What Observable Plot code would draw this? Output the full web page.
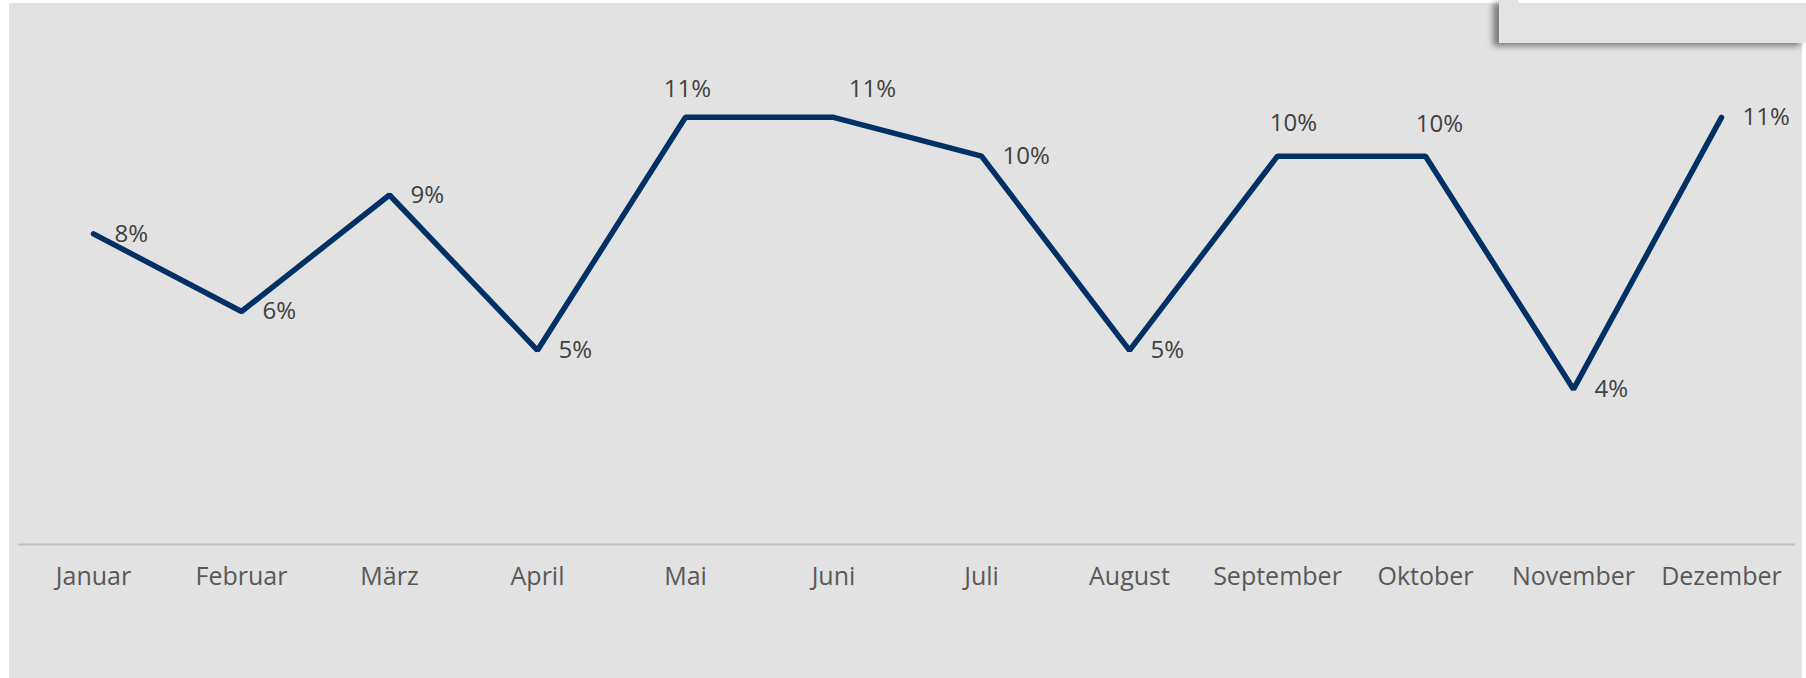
<!DOCTYPE html>
<html>
<head>
<meta charset="utf-8">
<script src="https://cdn.jsdelivr.net/npm/d3@7"></script>
<script src="https://cdn.jsdelivr.net/npm/@observablehq/plot@0.6"></script>
<style>
  html, body { margin: 0; padding: 0; background: #ffffff; }
  #wrap { position: relative; width: 1806px; height: 678px; overflow: hidden; }
  #bg { position: absolute; left: 9px; top: 3px; width: 1793px; height: 675px; background: #e2e2e2; }
  #chart { position: absolute; left: 0; top: 0; }
  #box { position: absolute; left: 1499px; top: 0; width: 307px; height: 43px; background: #e3e3e3;
         box-shadow: -6px 3px 6px rgba(0,0,0,0.45); }
  #strip { position: absolute; left: 1518px; top: 0; width: 288px; height: 3px; background: #ffffff; }
</style>
</head>
<body>
<div id="wrap">
  <div id="bg"></div>
  <div id="chart"></div>
  <div id="box"></div>
  <div id="strip"></div>
</div>
<script>
const months = ["Januar","Februar","März","April","Mai","Juni","Juli","August","September","Oktober","November","Dezember"];
const values = [8, 6, 9, 5, 11, 11, 10, 5, 10, 10, 4, 11];
const valueLabels = ["8%","6%","9%","5%","11%","11%","10%","5%","10%","10%","4%","11%"];

const data = months.map((m, i) => ({month: m, value: values[i], label: valueLabels[i]}));

const rightPlaced = new Set(["Januar","Februar","März","April","Juli","August","November","Dezember"]);
const abovePlaced = [
  {month: "Mai", dx: 2, dy: -28},
  {month: "Juni", dx: 39, dy: -28},
  {month: "September", dx: 16, dy: -33},
  {month: "Oktober", dx: 14, dy: -32}
];

const font = "'Open Sans', 'Noto Sans', sans-serif";

const marks = [
  Plot.ruleY([0], {stroke: "#bfbfbf", strokeWidth: 2, insetLeft: 2, insetRight: 2}),
  Plot.axisX({tickSize: 0, tickPadding: 23, fontSize: 25, label: null, fill: "#595959"}),
  Plot.line(data, {x: "month", y: "value", stroke: "#003064", strokeWidth: 5.5, strokeLinecap: "round", strokeLinejoin: "miter"}),
  Plot.text(data.filter(d => rightPlaced.has(d.month)), {
    x: "month", y: "value", text: "label", textAnchor: "start", dx: 21, dy: 0,
    fontSize: 24, fill: "#404040"
  }),
  ...abovePlaced.map(p => Plot.text(data.filter(d => d.month === p.month), {
    x: "month", y: "value", text: "label", textAnchor: "middle", dx: p.dx, dy: p.dy,
    fontSize: 24, fill: "#404040"
  }))
];

const chart = Plot.plot({
  width: 1806,
  height: 678,
  marginLeft: 16,
  marginRight: 9,
  marginTop: 78,
  marginBottom: 134,
  x: {type: "point", domain: months, padding: 0.5, axis: null},
  y: {domain: [0, 12], axis: null},
  style: {background: "transparent", fontFamily: font, color: "#595959", overflow: "visible"},
  marks
});
document.getElementById("chart").appendChild(chart);
</script>
</body>
</html>
